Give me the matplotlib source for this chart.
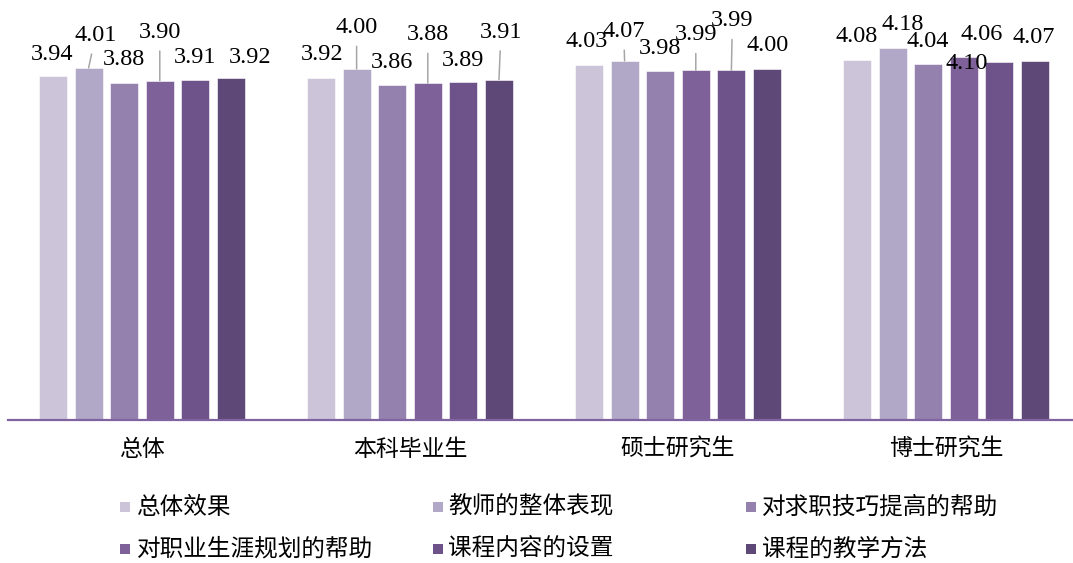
import matplotlib
matplotlib.use('Agg')
import matplotlib.pyplot as plt
from matplotlib.patches import Rectangle
import numpy as np

categories = ['总体', '本科毕业生', '硕士研究生', '博士研究生']
series_names = ['总体效果', '教师的整体表现', '对求职技巧提高的帮助',
                '对职业生涯规划的帮助', '课程内容的设置', '课程的教学方法']
s_overall = [3.94, 3.92, 4.03, 4.08]
s_teacher = [4.01, 4.00, 4.07, 4.18]
s_jobskill = [3.88, 3.86, 3.98, 4.04]
s_career = [3.90, 3.88, 3.99, 4.10]
s_content = [3.91, 3.89, 3.99, 4.06]
s_method = [3.92, 3.91, 4.00, 4.07]
series_values = [s_overall, s_teacher, s_jobskill, s_career, s_content, s_method]

colors = ['#CCC5DA', '#B1A7C6', '#9581AE', '#7F6199', '#6D5389', '#5E4877']

# label offsets (pixels, relative to bar top centre -> label centre), per group per series
label_offsets = [
    [(-1, 23), (7, 34), (0, 25), (0, 50), (0, 24), (19, 22)],
    [(1, 25), (0, 43), (0, 24), (0, 50), (0, 23), (2, 49)],
    [(-2, 25), (-1, 31), (0, 24), (0, 37), (1, 51), (1, 25)],
    [(0, 25), (10, 25), (-1, 24), (3, -5), (-18, 29), (-1, 25)],
]
leaders = {(0, 1), (0, 3), (1, 1), (1, 3), (1, 5), (2, 1), (2, 3), (2, 4)}

W, H = 1073, 563
fig = plt.figure(figsize=(W / 100, H / 100), dpi=100)
ax = fig.add_axes([8 / W, 143 / H, 1072 / W, 420 / H])

cjk = ['Noto Sans CJK SC', 'DejaVu Sans']
num_font = 'Liberation Serif'

x = np.arange(len(categories))
pitch = 0.1328
width = 0.104
for s, (vals, col) in enumerate(zip(series_values, colors)):
    xs = x + (s - 2.5) * pitch
    ax.bar(xs, vals, width=width, color=col, edgecolor='white', linewidth=0.4,
           bottom=0, label=series_names[s], zorder=2)
    for g, (xi, v) in enumerate(zip(xs, vals)):
        dx, dy = label_offsets[g][s]
        ap = None
        if (g, s) in leaders:
            ap = dict(arrowstyle='-', color='#A6A6A6', lw=1.1, shrinkA=4, shrinkB=0)
        ax.annotate(f'{v:.2f}', xy=(xi, v), xytext=(dx, dy - 7),
                    textcoords='offset pixels', ha='center', va='baseline',
                    fontsize=17.5, family=num_font, color='black',
                    arrowprops=ap, zorder=3, annotation_clip=False)

ax.set_xlim(-0.5, 3.5)
ax.set_ylim(1, 1 + 420 / 117)
ax.set_yticks([])
ax.set_xticks(x)
ax.set_xticklabels(categories, fontsize=16.5, family=cjk)
ax.tick_params(axis='x', length=0, pad=13)
for sp in ['left', 'top', 'right']:
    ax.spines[sp].set_visible(False)
ax.spines['bottom'].set_color('#8064A2')
ax.spines['bottom'].set_linewidth(1.6)
ax.spines['bottom'].set_zorder(4)
ax.patch.set_alpha(0)

# manual legend (marker centre x, text start x, row centre y) in pixels
leg_marker_x = [125, 438, 751]
leg_text_x = [137, 448, 762]
leg_row_y = [507, 549]
for i, (name, col) in enumerate(zip(series_names, colors)):
    r, c = divmod(i, 3)
    px, tx, py = leg_marker_x[c], leg_text_x[c], leg_row_y[r]
    fig.patches.append(Rectangle(((px - 5) / W, 1 - (py + 5) / H), 10 / W, 10 / H,
                                 transform=fig.transFigure, facecolor=col,
                                 edgecolor='none'))
    fig.text(tx / W, 1 - py / H, name, fontsize=17, family=cjk,
             va='center', ha='left', color='black')

fig.savefig('out.png', dpi=100)
